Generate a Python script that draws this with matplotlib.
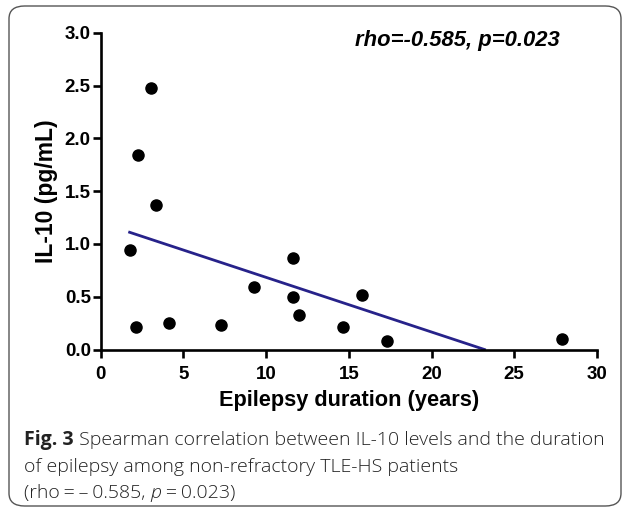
import numpy as np
import matplotlib
matplotlib.use("Agg")
import matplotlib.pyplot as plt
from matplotlib.patches import FancyBboxPatch

# Data
duration = [3.03, 2.28, 3.37, 1.78, 2.14, 4.12, 7.31, 9.29, 11.65, 11.65,
            11.98, 15.82, 14.68, 17.30, 27.90]
il10 = [2.48, 1.84, 1.37, 0.94, 0.21, 0.25, 0.23, 0.59, 0.87, 0.50,
        0.33, 0.52, 0.21, 0.08, 0.10]

fit_x = [1.76, 23.2]
fit_y = [1.11, 0.0]

x_ticks = [0, 5, 10, 15, 20, 25, 30]
y_ticks = [0.0, 0.5, 1.0, 1.5, 2.0, 2.5, 3.0]
y_tick_labels = ["0.0", "0.5", "1.0", "1.5", "2.0", "2.5", "3.0"]

W, H = 627, 509
fig = plt.figure(figsize=(W / 100, H / 100), dpi=100)

# rounded frame around figure + caption
frame = FancyBboxPatch((9 / W, 3 / H), 612 / W, 500 / H,
                       boxstyle="round,pad=0,rounding_size=0.025",
                       transform=fig.transFigure, fill=False,
                       edgecolor="#555555", linewidth=1.0)
fig.patches.append(frame)

ax = fig.add_axes([100.5 / W, 1 - 349.5 / H, (597 - 100.5) / W, (349.5 - 32.7) / H])

ax.scatter(duration, il10, s=64, color="black", zorder=3, clip_on=False)
ax.plot(fit_x, fit_y, color="#27228a", linewidth=2.0, zorder=2)

ax.set_xlim(0, 30)
ax.set_ylim(0, 3.0)
ax.set_xticks(x_ticks)
ax.set_yticks(y_ticks)
ax.set_yticklabels(y_tick_labels)

for side in ["top", "right"]:
    ax.spines[side].set_visible(False)
for side in ["left", "bottom"]:
    ax.spines[side].set_linewidth(1.9)

ax.tick_params(axis="both", direction="out", length=6, width=1.9,
               labelsize=13.5)
ax.tick_params(axis="x", pad=6)
ax.tick_params(axis="y", pad=1)
for lab in ax.get_xticklabels() + ax.get_yticklabels():
    lab.set_family("Liberation Sans")
    lab.set_fontweight("bold")

ax.set_xlabel("Epilepsy duration (years)", family="Liberation Sans",
              fontweight="bold", fontsize=15.7, labelpad=5)
ax.set_ylabel("IL-10 (pg/mL)", family="Liberation Sans",
              fontweight="bold", fontsize=16.5, labelpad=5)

ax.text(0.925, 0.974, "rho=-0.585, p=0.023", transform=ax.transAxes,
        ha="right", va="center", family="Liberation Sans",
        fontweight="bold", fontstyle="italic", fontsize=15.8)

# caption
cap_size = 14
fig.canvas.draw()
renderer = fig.canvas.get_renderer()


def run(x, y, parts):
    # parts: list of (text, weight, style)
    for txt, weight, style in parts:
        t = fig.text(x / W, 1 - y / H, txt, family="Open Sans",
                     fontsize=cap_size, fontweight=weight, fontstyle=style,
                     va="baseline", ha="left", color="#222222")
        bb = t.get_window_extent(renderer)
        x += bb.width


run(24, 445, [("Fig. 3", "bold", "normal"),
              (" Spearman correlation between IL-10 levels and the duration", "light", "normal")])
run(24, 472, [("of epilepsy among non-refractory TLE-HS patients", "light", "normal")])
run(24, 498, [("(rho\u2009=\u2009\u2013\u20090.585, ", "light", "normal"),
              ("p", "light", "italic"),
              ("\u2009=\u20090.023)", "light", "normal")])

fig.savefig("out.png", dpi=100)
